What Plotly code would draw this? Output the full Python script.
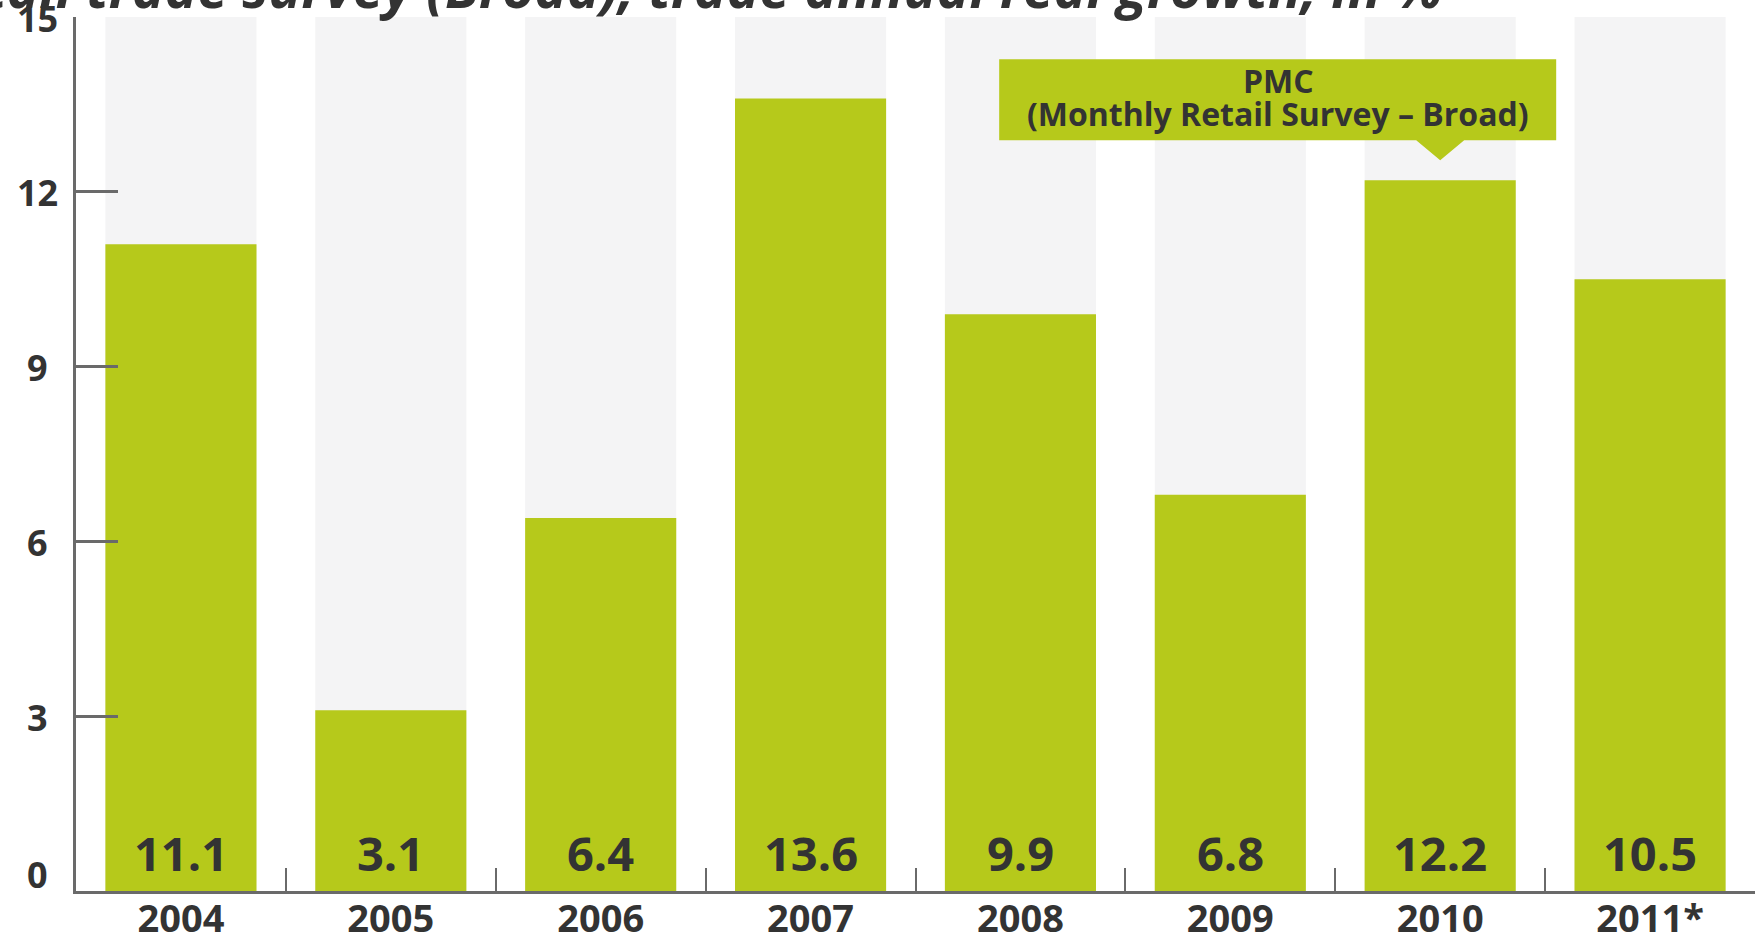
import plotly.graph_objects as go

# Annual real growth of retail trade, in %
years = ["2004", "2005", "2006", "2007", "2008", "2009", "2010", "2011*"]
growth = [11.1, 3.1, 6.4, 13.6, 9.9, 6.8, 12.2, 10.5]

y_ticks = [0, 3, 6, 9, 12, 15]
y_tick_labels = ["0", "3", "6", "9", "12", "15"]
y_max = 15

title_text = "Retail trade survey (Broad), trade annual real growth, in %"
callout_title = "PMC"
callout_sub = "(Monthly Retail Survey – Broad)"
callout_year = "2010"

GREEN = "#b6c91b"
TRACK = "#f4f4f5"
INK = "#333333"
AXIS = "#6a6a6a"
FONT = "Open Sans"

fig = go.Figure()

# pale full-height track behind every column
fig.add_trace(go.Bar(
    x=years, y=[y_max] * len(years),
    marker=dict(color=TRACK, line=dict(width=0)),
    hoverinfo="skip", showlegend=False,
))

# growth columns
fig.add_trace(go.Bar(
    x=years, y=growth,
    marker=dict(color=GREEN, line=dict(width=0)),
    hoverinfo="skip", showlegend=False,
))

annotations = []

# value written at the base of each column
for i, v in enumerate(growth):
    annotations.append(dict(
        xref="x", yref="y", x=i, y=0,
        text=f"{v:.1f}", showarrow=False, xanchor="center", yanchor="bottom",
        yshift=4,
        font=dict(family=FONT, size=47, color=INK, weight=700),
    ))

# y tick labels, centred on a common column left of the axis;
# the zero label is lifted clear of the baseline
for v, lab in zip(y_ticks, y_tick_labels):
    annotations.append(dict(
        xref="paper", yref="y", x=-0.0229, y=v,
        text=lab, showarrow=False, xanchor="center", yanchor="middle",
        yshift=17 if v == 0 else -1,
        font=dict(family=FONT, size=36, color=INK, weight=700),
    ))

# title line (runs past the top of the page)
annotations.append(dict(
    xref="paper", yref="paper", x=0.8148, y=1.0,
    xanchor="right", yanchor="bottom", yshift=-9,
    text=title_text, showarrow=False,
    font=dict(family=FONT, size=55, color=INK, weight=700, style="italic"),
))

# callout above the 2010 column: box with pointer, drawn in pixels from the bar top
callout_idx = years.index(callout_year)
callout_value = growth[callout_idx]
callout_path = ("M -441 121 L 116 121 L 116 40 L 24 40 L 0 20 "
                "L -24 40 L -441 40 Z")
for txt, dy in ((callout_title, 100), (callout_sub, 67)):
    annotations.append(dict(
        xref="x", yref="y", x=callout_idx, y=callout_value,
        xanchor="center", yanchor="middle", xshift=-162, yshift=dy,
        text=txt, showarrow=False,
        font=dict(family=FONT, size=32, color=INK, weight=700),
    ))

fig.update_layout(
    width=1755, height=933,
    margin=dict(l=76, r=0, t=17, b=42, pad=0, autoexpand=False),
    paper_bgcolor="white", plot_bgcolor="white",
    barmode="overlay", bargap=0.28,
    annotations=annotations,
    shapes=[dict(
        type="path", layer="above",
        xref="x", yref="y",
        xsizemode="pixel", ysizemode="pixel",
        xanchor=callout_idx, yanchor=callout_value,
        path=callout_path,
        fillcolor=GREEN, line=dict(width=0),
    )],
    xaxis=dict(
        type="category", range=[-0.5, len(years) - 0.5],
        showgrid=False, zeroline=False, automargin=False,
        showline=True, linewidth=3, linecolor=AXIS,
        ticks="inside", tickson="boundaries", ticklen=23, tickwidth=2, tickcolor=AXIS,
        tickfont=dict(family=FONT, size=38, color=INK, weight=700),
        ticklabelstandoff=-8,
        fixedrange=True,
    ),
    yaxis=dict(
        range=[0, y_max], tickvals=y_ticks,
        showgrid=False, zeroline=False, automargin=False,
        showline=True, linewidth=3, linecolor=AXIS,
        ticks="inside", ticklen=42, tickwidth=3, tickcolor=AXIS,
        showticklabels=False,
        fixedrange=True,
    ),
)

fig.write_html("out.html", config={"displayModeBar": False})
